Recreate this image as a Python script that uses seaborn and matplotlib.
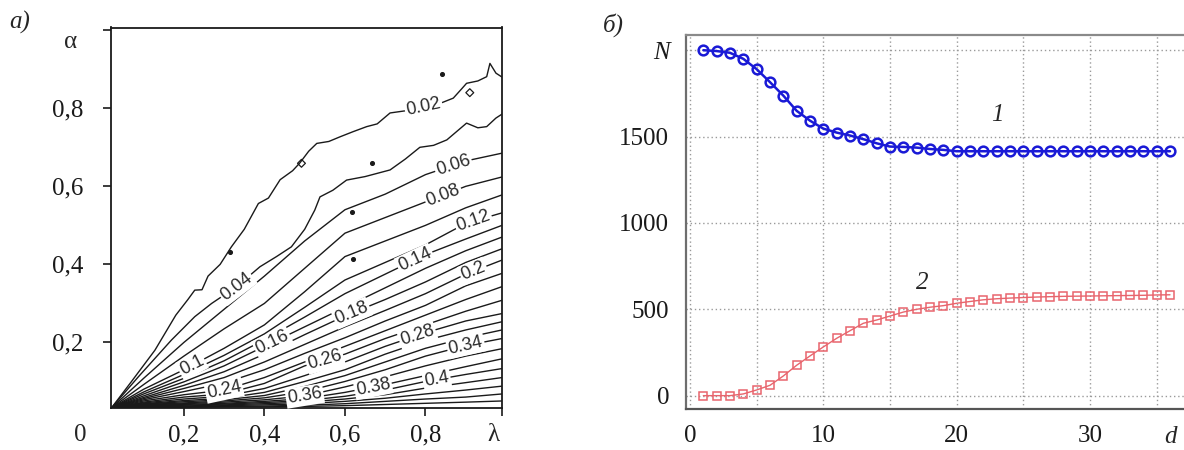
import numpy as np
import matplotlib
matplotlib.use("Agg")
import matplotlib.pyplot as plt
import seaborn as sns

# ---- panel a: contour lines alpha(lambda) ----
lam_grid = [0.02, 0.1, 0.2, 0.3, 0.4, 0.5, 0.6, 0.7, 0.8, 0.9, 0.99]

# the two top lines are wiggly, so they get their own points
lam_002 = [0.02, 0.07, 0.128, 0.18, 0.21, 0.227, 0.245, 0.26, 0.29, 0.318, 0.35,
           0.385, 0.41, 0.439, 0.47, 0.488, 0.51, 0.53, 0.56, 0.588, 0.62, 0.654,
           0.68, 0.712, 0.76, 0.795, 0.83, 0.869, 0.89, 0.902, 0.93, 0.952, 0.96,
           0.975, 0.99]
a_002 = [0.032, 0.10, 0.18, 0.27, 0.31, 0.334, 0.335, 0.37, 0.40, 0.445, 0.49,
         0.556, 0.57, 0.617, 0.64, 0.66, 0.69, 0.71, 0.715, 0.727, 0.74, 0.753,
         0.76, 0.788, 0.795, 0.804, 0.81, 0.826, 0.85, 0.864, 0.87, 0.881, 0.915,
         0.89, 0.88]
lam_004 = [0.02, 0.087, 0.169, 0.227, 0.269, 0.331, 0.389, 0.43, 0.467, 0.50,
           0.525, 0.538, 0.57, 0.604, 0.65, 0.712, 0.75, 0.786, 0.82, 0.853, 0.902,
           0.93, 0.952, 0.975, 0.99]
a_004 = [0.032, 0.112, 0.206, 0.266, 0.30, 0.343, 0.394, 0.42, 0.445, 0.49,
         0.539, 0.573, 0.59, 0.616, 0.625, 0.642, 0.67, 0.70, 0.705, 0.719, 0.762,
         0.75, 0.753, 0.775, 0.785]

a_006 = [0.032, 0.108, 0.20, 0.285, 0.37, 0.46, 0.54, 0.58, 0.63, 0.665, 0.685]
a_008 = [0.032, 0.092, 0.165, 0.235, 0.30, 0.39, 0.48, 0.52, 0.56, 0.60, 0.624]
a_010 = [0.032, 0.08, 0.13, 0.185, 0.245, 0.33, 0.42, 0.46, 0.50, 0.545, 0.578]
a_012 = [0.032, 0.073, 0.118, 0.167, 0.222, 0.29, 0.36, 0.405, 0.45, 0.505, 0.532]
a_014 = [0.032, 0.068, 0.108, 0.153, 0.207, 0.265, 0.325, 0.375, 0.425, 0.465, 0.50]
a_016 = [0.032, 0.063, 0.099, 0.14, 0.19, 0.24, 0.29, 0.34, 0.39, 0.435, 0.47]
a_018 = [0.032, 0.059, 0.09, 0.125, 0.17, 0.22, 0.268, 0.31, 0.355, 0.405, 0.44]
a_020 = [0.032, 0.056, 0.082, 0.11, 0.15, 0.195, 0.24, 0.282, 0.325, 0.375, 0.411]
a_022 = [0.032, 0.053, 0.074, 0.096, 0.13, 0.172, 0.212, 0.255, 0.295, 0.345, 0.377]
a_024 = [0.032, 0.05, 0.066, 0.078, 0.11, 0.15, 0.19, 0.23, 0.27, 0.31, 0.343]
a_026 = [0.032, 0.047, 0.06, 0.068, 0.095, 0.14, 0.17, 0.21, 0.245, 0.28, 0.308]
a_028 = [0.032, 0.045, 0.055, 0.062, 0.082, 0.115, 0.15, 0.19, 0.225, 0.255, 0.274]
a_030 = [0.032, 0.043, 0.051, 0.057, 0.072, 0.10, 0.13, 0.17, 0.205, 0.232, 0.253]
a_032 = [0.032, 0.042, 0.048, 0.053, 0.064, 0.087, 0.115, 0.15, 0.185, 0.212, 0.232]
a_034 = [0.032, 0.041, 0.045, 0.05, 0.058, 0.074, 0.10, 0.13, 0.165, 0.192, 0.21]
a_036 = [0.032, 0.04, 0.043, 0.047, 0.053, 0.063, 0.086, 0.112, 0.14, 0.165, 0.184]
a_038 = [0.032, 0.039, 0.041, 0.044, 0.049, 0.056, 0.072, 0.092, 0.115, 0.138, 0.158]
a_040 = [0.032, 0.038, 0.039, 0.042, 0.046, 0.051, 0.062, 0.078, 0.10, 0.118, 0.133]
a_042 = [0.032, 0.037, 0.037, 0.04, 0.043, 0.047, 0.055, 0.066, 0.083, 0.097, 0.11]
a_044 = [0.032, 0.036, 0.036, 0.038, 0.04, 0.043, 0.049, 0.057, 0.068, 0.078, 0.088]
a_046 = [0.032, 0.035, 0.035, 0.036, 0.037, 0.039, 0.043, 0.049, 0.055, 0.06, 0.068]
a_048 = [0.032, 0.034, 0.034, 0.035, 0.035, 0.036, 0.038, 0.041, 0.044, 0.047, 0.05]

# where the inline labels sit (lambda along the line)
label_at = {0.02: 0.795, 0.04: 0.331, 0.06: 0.869, 0.08: 0.844, 0.1: 0.22,
            0.12: 0.919, 0.14: 0.774, 0.16: 0.42, 0.18: 0.617, 0.2: 0.919,
            0.24: 0.30, 0.26: 0.55, 0.28: 0.78, 0.34: 0.90, 0.36: 0.50,
            0.38: 0.67, 0.4: 0.828}

# stray points and tiny closed loops in the scan
dot_lam = [0.84, 0.666, 0.617, 0.314, 0.62]
dot_alpha = [0.888, 0.659, 0.535, 0.432, 0.415]
loop_lam = [0.492, 0.91]
loop_alpha = [0.659, 0.84]

# ---- panel b: N(d) ----
d = list(range(1, 37))
N1 = [2000, 1995, 1985, 1950, 1890, 1815, 1737, 1649, 1592, 1546, 1523, 1506,
      1485, 1461, 1442, 1440, 1436, 1428, 1423, 1415, 1415, 1415, 1415, 1415,
      1415, 1415, 1415, 1415, 1415, 1415, 1415, 1415, 1415, 1415, 1415, 1415]
N2 = [0, 0, 0, 10, 33, 60, 114, 176, 230, 282, 332, 376, 419, 438, 461, 484,
      500, 512, 521, 535, 545, 555, 561, 565, 568, 571, 573, 575, 576, 577, 578,
      579, 580, 581, 583, 584]

sns.set_style("white")
plt.rcParams['font.family'] = ['Liberation Serif', 'DejaVu Serif']

W, H = 1184, 450
fig = plt.figure(figsize=(W / 100, H / 100), dpi=100)


def px_box(left, right, top, bottom):
    return [left / W, 1 - bottom / H, (right - left) / W, (bottom - top) / H]


# ================= panel a =================
ax_a = fig.add_axes(px_box(111, 502, 27.5, 408))
ax_a.set_xlim(0.019, 0.99)
ax_a.set_ylim(0.032, 1.007)

lines = [(0.02, lam_002, a_002), (0.04, lam_004, a_004)]
for lev, arr in [(0.06, a_006), (0.08, a_008), (0.1, a_010), (0.12, a_012),
                 (0.14, a_014), (0.16, a_016), (0.18, a_018), (0.2, a_020),
                 (0.22, a_022), (0.24, a_024), (0.26, a_026), (0.28, a_028),
                 (0.3, a_030), (0.32, a_032), (0.34, a_034), (0.36, a_036),
                 (0.38, a_038), (0.4, a_040), (0.42, a_042), (0.44, a_044),
                 (0.46, a_046), (0.48, a_048)]:
    lines.append((lev, lam_grid, arr))

for lev, lam, alp in lines:
    sns.lineplot(x=lam, y=alp, ax=ax_a, sort=False, estimator=None,
                 color='#1a1a1a', linewidth=1.0)

for lev, lam, alp in lines:
    if lev not in label_at:
        continue
    at = label_at[lev]
    y = np.interp(at, lam, alp)
    p0 = ax_a.transData.transform((at - 0.04, np.interp(at - 0.04, lam, alp)))
    p1 = ax_a.transData.transform((at + 0.04, np.interp(at + 0.04, lam, alp)))
    ang = np.degrees(np.arctan2(p1[1] - p0[1], p1[0] - p0[0]))
    ax_a.text(at, y, f"{lev:g}", rotation=ang, rotation_mode='anchor',
              ha='center', va='center', fontsize=13, color='#2a2a2a',
              family=['Liberation Sans', 'DejaVu Sans'], zorder=5,
              bbox=dict(boxstyle='square,pad=0.08', fc='white', ec='none'))

ax_a.scatter(dot_lam, dot_alpha, s=7, color='#1a1a1a', zorder=4)
ax_a.scatter(loop_lam, loop_alpha, marker='D', s=16, facecolors='none',
             edgecolors='#1a1a1a', linewidths=0.9, zorder=4)

ax_a.set_xticks([0.2, 0.4, 0.6, 0.8, 0.99])
ax_a.set_xticklabels(['0,2', '0,4', '0,6', '0,8', ''])
ax_a.set_yticks([0.2, 0.4, 0.6, 0.8, 1.0])
ax_a.set_yticklabels(['0,2', '0,4', '0,6', '0,8', ''])
ax_a.tick_params(axis='both', direction='out', length=6, width=1.2,
                 colors='#1a1a1a', labelsize=18, bottom=True, left=True)
ax_a.tick_params(axis='y', pad=14)
ax_a.tick_params(axis='x', pad=6)
for sp in ax_a.spines.values():
    sp.set_color('#1a1a1a')
    sp.set_linewidth(1.3)

fig.text(80 / W, 1 - 435 / H, '0', fontsize=18, ha='center', va='center')
fig.text(493 / W, 1 - 435 / H, 'λ', fontsize=18, ha='center', va='center')
fig.text(71 / W, 1 - 42 / H, 'α', fontsize=18, ha='center', va='center')
fig.text(20 / W, 1 - 22 / H, 'а)', fontsize=18, style='italic',
         ha='center', va='center')

# ================= panel b =================
ax_b = fig.add_axes(px_box(686, 1184, 35, 409.3))
ax_b.set_xlim(-0.3, 37.05)
ax_b.set_ylim(-79, 2088)

blue = '#1a1ad6'
red = '#e8656d'
sns.lineplot(x=d, y=N1, ax=ax_b, color=blue, linewidth=1.8, marker='o',
             markersize=7, markerfacecolor='none', markeredgecolor=blue,
             markeredgewidth=1.8, zorder=3)
sns.lineplot(x=d, y=N2, ax=ax_b, color=red, linewidth=1.0, marker='s',
             markersize=5.5, markerfacecolor='none', markeredgecolor=red,
             markeredgewidth=1.1, zorder=3)

ax_b.set_xticks(list(range(0, 36, 5)))
ax_b.set_xticklabels(['0', '', '10', '', '20', '', '30', ''])
ax_b.set_yticks([0, 500, 1000, 1500, 2000])
ax_b.set_yticklabels(['0', '500', '1000', '1500', 'N'])
ax_b.get_yticklabels()[4].set_style('italic')
ax_b.tick_params(axis='both', length=0, labelsize=18, colors='#1a1a1a')
ax_b.tick_params(axis='y', pad=12)
ax_b.tick_params(axis='x', pad=11)
ax_b.grid(True, linestyle=(0, (1, 2)), color='#9a9a9a', linewidth=1.0)
ax_b.spines['right'].set_visible(False)
ax_b.spines['left'].set_color('#6e6e6e')
ax_b.spines['bottom'].set_color('#555555')
ax_b.spines['top'].set_color('#8a8a8a')
for sp in ('left', 'bottom', 'top'):
    ax_b.spines[sp].set_linewidth(1.6)

ax_b.text(23.05, 1625, '1', fontsize=18, style='italic', ha='center', va='center')
ax_b.text(17.4, 652, '2', fontsize=18, style='italic', ha='center', va='center')
fig.text(1170.7 / W, 1 - 437 / H, 'd', fontsize=18, style='italic',
         ha='center', va='center')
fig.text(613 / W, 1 - 25 / H, 'б)', fontsize=18, style='italic',
         ha='center', va='center')

fig.savefig('out.png', dpi=100)
